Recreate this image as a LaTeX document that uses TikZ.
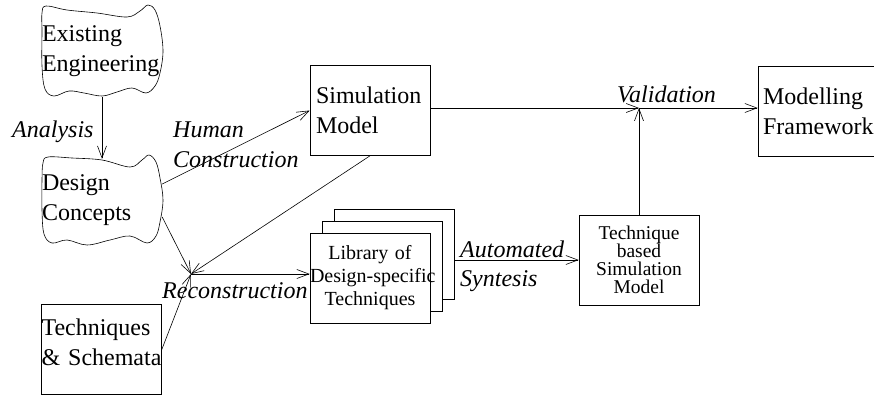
\documentclass[tikz,border=0pt]{standalone}
\usepackage{fontspec}
\setmainfont{Liberation Serif}
\usetikzlibrary{arrows.meta,calc}

\begin{document}
\begin{tikzpicture}[x=1pt,y=-1pt,
  every node/.style={font=\fontsize{24}{30}\selectfont},
  lbl/.style={font=\fontsize{24}{30}\selectfont\itshape, anchor=base west, inner sep=0pt},
  box/.style={draw, line width=0.6pt, minimum width=120pt, minimum height=90pt, inner ysep=0pt},
  cloudtext/.style={text width=120pt, align=left, inner xsep=1pt, inner ysep=0pt, minimum height=92pt},
  outline/.style={line width=0.6pt},
  conn/.style={-{Straight Barb[length=12pt,width=9pt]}, line width=0.6pt}]
\useasboundingbox (0,0) rectangle (874,396);

% clouds of informal knowledge
\node[cloudtext] (ee) at (102,51) {Existing\\Engineering};
\node[cloudtext] (dc) at (102,200) {Design\\Concepts};
\draw[outline, shift={(ee.center)}] plot[smooth cycle, tension=0.6] coordinates {
  (-56,-45) (-35,-41) (-5,-38) (25,-34) (38,-40) (46,-46) (53,-41)
  (58,-25) (61,0) (58,22) (53,35)
  (44,42) (30,37) (15,41) (0,45) (-18,42) (-33,40) (-48,45) (-57,38)
  (-60,15) (-60,-20) (-60,-38)};
\draw[outline, shift={(dc.center)}] plot[smooth cycle, tension=0.6] coordinates {
  (-54,-43) (-30,-42) (0,-40) (28,-33) (40,-40) (47,-45) (54,-38)
  (58,-22) (61,0) (58,22) (54,36)
  (45,43) (28,36) (8,40) (-15,45) (-35,40) (-50,43) (-58,34)
  (-60,10) (-60,-20) (-59,-37)};

% rectangular boxes
\node[box, text width=120pt, inner xsep=0pt, align=left] (ts) at (101.5,349.5)
  {Techniques\\\&~Schemata\rule[-15pt]{0pt}{15pt}};
\node[box, text width=108pt, inner xsep=6pt, align=left] (sm) at (370,110.5)
  {Simulation\\Model};
\node[box, text width=112pt, inner xsep=5pt, align=left, minimum width=122pt] (mf) at (819,111)
  {Modelling\\Framework};

% stacked library
\node[box, fill=white] (lib3) at (394,254) {};
\node[box, fill=white] (lib2) at (382.5,266) {};
\node[box, fill=white, text width=120pt, inner xsep=0pt, align=center,
      font=\fontsize{20}{23}\selectfont] (lib) at (370,278)
  {Library of\\\mbox{Design-specific}\\Techniques};

\node[box, text width=120pt, inner xsep=0pt, align=center,
      font=\fontsize{19.5}{18}\selectfont] (tb) at (639,260)
  {Technique\\based\\Simulation\\Model};

% junction points
\coordinate (R) at (191,274);
\coordinate (V) at (639,108);
\coordinate (dcTop) at ($(dc.north)+(0,5)$);
\coordinate (dcHi) at ($(dc.east)+(-1,-16)$);
\coordinate (dcLo) at ($(dc.east)+(-1,17)$);

% connectors
\draw[conn] (ee.south) -- (dcTop);
\draw[conn] (dcHi) -- (sm.west);
\draw[conn] (sm.south) -- (R);
\draw[conn] (dcLo) -- (R);
\draw[conn] (ts.east) -- (R);
\draw[conn] (R) -- (R -| lib.west);
\draw[conn] (tb.west -| lib3.east) -- (tb.west);
\draw[conn] (tb.north) -- (V);
\draw[conn] (sm.east |- V) -- (V);
\draw[conn] (V) -- (V -| mf.west);

% labels
\node[lbl] (lAna) at (12,137) {Analysis};
\node[lbl] (lHum) at (173,137) {Human};
\node[lbl] (lCon) at (173,167) {Construction};
\node[lbl] (lRec) at (162,298) {Reconstruction};
\node[lbl] (lAut) at (460,257) {Automated};
\node[lbl] (lSyn) at (460,286) {Syntesis};
\node[lbl] (lVal) at (617,102) {Validation};
\end{tikzpicture}
\end{document}
